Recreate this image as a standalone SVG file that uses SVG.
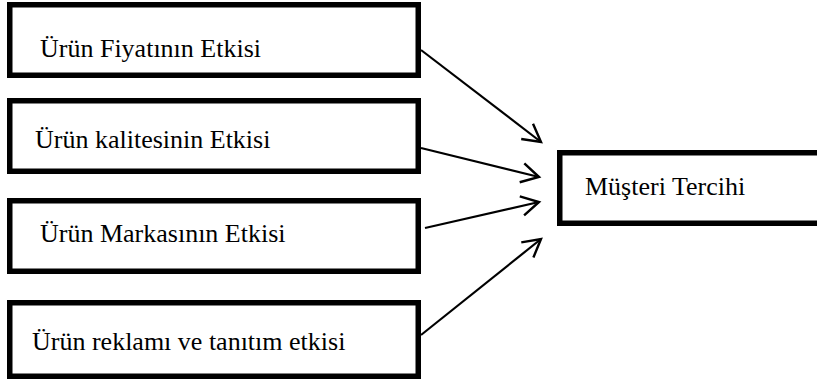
<svg xmlns="http://www.w3.org/2000/svg" width="817" height="381" viewBox="0 0 817 381">
<style>
.box{fill:#fff;stroke:#000;stroke-width:5.5}
.lbl{font-family:'Liberation Serif','DejaVu Serif','Times New Roman',Times,serif;font-size:26px;fill:#000}
.conn{stroke:#000;stroke-width:2.2;fill:none;marker-end:url(#arr)}
</style>
<defs>
<marker id="arr" markerUnits="userSpaceOnUse" markerWidth="30" markerHeight="30" viewBox="-20 -15 24 30" refX="0" refY="0" orient="auto">
<path d="M-17.5,-9.7 L0,0 L-17.5,9.7" fill="none" stroke="#000" stroke-width="2.4"/>
</marker>
</defs>
<rect width="817" height="381" fill="#fff"/>
<g id="n1"><rect class="box" x="9.75" y="4.75" width="408.5" height="70.5"/><text class="lbl" x="40" y="57">Ürün Fiyatının Etkisi</text></g>
<g id="n2"><rect class="box" x="9.75" y="100.75" width="408.5" height="70.5"/><text class="lbl" x="35" y="148">Ürün kalitesinin Etkisi</text></g>
<g id="n3"><rect class="box" x="9.75" y="200.75" width="408.5" height="70.5"/><text class="lbl" x="40" y="242">Ürün Markasının Etkisi</text></g>
<g id="n4"><rect class="box" x="9.75" y="302.75" width="408.5" height="73.5"/><text class="lbl" x="32" y="350">Ürün reklamı ve tanıtım etkisi</text></g>
<g id="n5"><rect class="box" x="559.75" y="152.75" width="330" height="70.5"/><text class="lbl" x="585" y="195">Müşteri Tercihi</text></g>
<g id="connectors">
<line class="conn" x1="421" y1="50" x2="541" y2="142"/>
<line class="conn" x1="421" y1="148" x2="539" y2="177"/>
<line class="conn" x1="425" y1="228" x2="539" y2="202"/>
<line class="conn" x1="421" y1="335" x2="541" y2="239"/>
</g>
</svg>
